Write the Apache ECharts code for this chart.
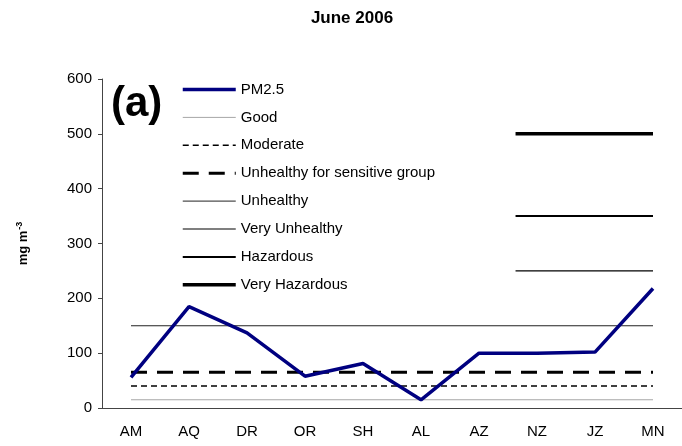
<!DOCTYPE html>
<html>
<head>
<meta charset="utf-8">
<script src="https://cdn.jsdelivr.net/npm/echarts@6/dist/echarts.min.js"></script>
<style>
  html, body { margin: 0; padding: 0; background: #fff; }
  #chart { width: 682px; height: 446px; }
</style>
</head>
<body>
<div id="chart"></div>
<script>
// sites and monthly PM2.5
var sites = ["AM", "AQ", "DR", "OR", "SH", "AL", "AZ", "NZ", "JZ", "MN"];
var pm25 = [56, 185, 137, 58, 81, 15, 100, 100, 102, 218];

// AQI breakpoints
var levelNames = ["Good", "Moderate", "Unhealthy for sensitive group", "Unhealthy",
  "Very Unhealthy", "Hazardous", "Very Hazardous"];
var levelValues = [15, 40, 65, 150, 250, 350, 500];
var levelFrom = [0, 0, 0, 0, 6.63, 6.63, 6.63];
var levelTo = [9, 9, 9, 9, 9, 9, 9];

var pmStyle = { color: "#000080", width: 3.5, type: "solid" };
var levelStyles = [
  { color: "#a6a6a6", width: 1, type: "solid" },
  { color: "#000", width: 1.5, type: [6, 4] },
  { color: "#000", width: 3, type: [16, 10] },
  { color: "#222", width: 1, type: "solid" },
  { color: "#000", width: 1.2, type: "solid" },
  { color: "#000", width: 2, type: "solid" },
  { color: "#000", width: 3.5, type: "solid" },
];

var FONT = "Liberation Sans, Arial, sans-serif";
var chart = echarts.init(document.getElementById("chart"));

var series = [
  {
    name: "PM2.5",
    type: "line",
    data: pm25,
    symbol: "none",
    z: 5,
    lineStyle: pmStyle,
    itemStyle: { color: pmStyle.color },
  },
];
var legendData = [{ name: "PM2.5", lineStyle: pmStyle }];
levelNames.forEach(function (n, i) {
  series.push({
    name: n,
    type: "line",
    xAxisIndex: 1,
    symbol: "none",
    data: [
      [levelFrom[i], levelValues[i]],
      [levelTo[i], levelValues[i]],
    ],
    lineStyle: levelStyles[i],
    itemStyle: { color: levelStyles[i].color },
  });
  legendData.push({ name: n, lineStyle: levelStyles[i] });
});

chart.setOption({
  animation: false,
  textStyle: { fontFamily: FONT },
  title: {
    text: "June 2006",
    left: 347,
    textAlign: "center",
    top: 5,
    textStyle: { fontSize: 17, fontWeight: "bold", color: "#000" },
  },
  legend: {
    orient: "vertical",
    left: 181,
    top: 82,
    padding: 0,
    itemWidth: 53,
    itemHeight: 14,
    itemGap: 12.9,
    itemStyle: { opacity: 0 },
    textStyle: { fontSize: 15, color: "#000" },
    data: legendData,
  },
  graphic: [
    {
      type: "text",
      left: 111,
      top: 83,
      style: {
        text: "(a)",
        fontSize: 42,
        fontWeight: "bold",
        fill: "#000",
        fontFamily: FONT,
      },
    },
  ],
  grid: { left: 102, right: 0, top: 79, bottom: 38 },
  xAxis: [
    {
      type: "category",
      data: sites,
      boundaryGap: true,
      axisLine: { lineStyle: { color: "#444", width: 1 } },
      axisTick: { length: 5, lineStyle: { color: "#444" } },
      axisLabel: { color: "#000", fontSize: 15, margin: 16 },
    },
    {
      type: "value",
      min: -0.5,
      max: 9.5,
      show: false,
    },
  ],
  yAxis: {
    type: "value",
    min: 0,
    max: 600,
    interval: 100,
    name: "{a|mg m}{b|-3}",
    nameLocation: "middle",
    nameGap: 70,
    nameTextStyle: {
      rich: {
        a: { fontSize: 13, fontWeight: "bold", color: "#000" },
        b: { fontSize: 9, fontWeight: "bold", color: "#000", padding: [0, 0, 8, 1] },
      },
    },
    axisLine: { show: true, onZero: false, lineStyle: { color: "#444", width: 1 } },
    axisTick: { show: true, length: 4, lineStyle: { color: "#444" } },
    axisLabel: { color: "#000", fontSize: 15, margin: 10 },
    splitLine: { show: false },
  },
  series: series,
});
</script>
</body>
</html>
